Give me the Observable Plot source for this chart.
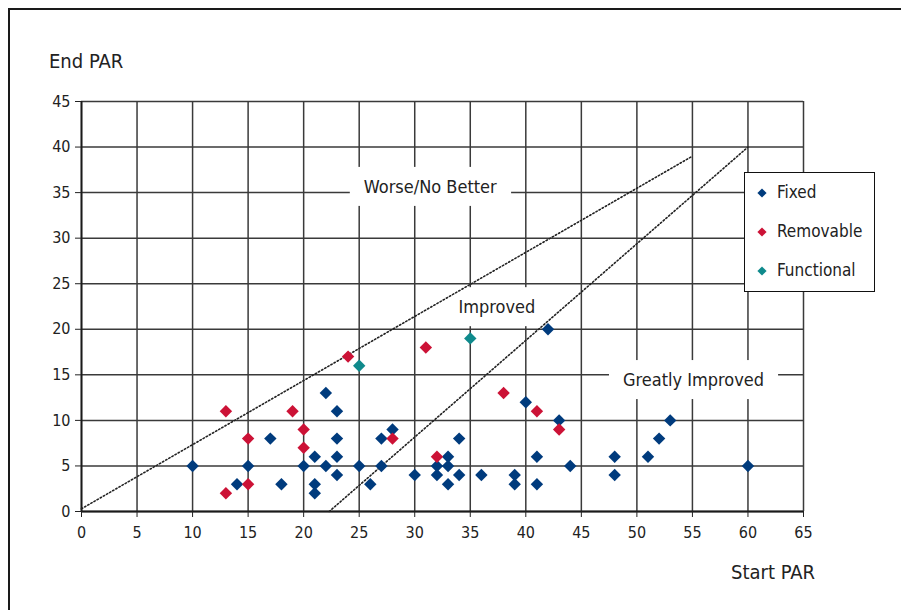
<!DOCTYPE html>
<html>
<head>
<meta charset="utf-8">
<script src="https://cdn.jsdelivr.net/npm/d3@7"></script>
<script src="https://cdn.jsdelivr.net/npm/@observablehq/plot@0.6"></script>
<style>
  body { margin: 0; background: #fff; }
  #wrap { position: relative; width: 901px; height: 610px; overflow: hidden;
          font-family: "DejaVu Sans Condensed", "DejaVu Sans", sans-serif; color: #222; background: #fff; }
  #frame { position: absolute; left: 8px; top: 8px; width: 1000px; height: 1000px;
           border-left: 2px solid #1a1a1a; border-top: 2px solid #1a1a1a; }
  #chart { position: absolute; left: 0; top: 0; }
  .axlabel { position: absolute; font-size: 20px; white-space: nowrap; line-height: 1; }
  #legend { position: absolute; left: 744px; top: 172px; width: 131px; height: 120px; box-sizing: border-box;
            border: 1.5px solid #111; background: #fff; }
  .row { position: absolute; left: 0; font-size: 17px; line-height: 1; white-space: nowrap; }
  .row svg { position: absolute; left: 11px; top: 3px; }
  .row span { position: absolute; left: 32px; top: 0; }
</style>
</head>
<body>
<div id="wrap">
  <div id="frame"></div>
  <div id="chart"></div>
  <div class="axlabel" style="left:49px; top:51px;">End PAR</div>
  <div class="axlabel" style="left:731px; top:562px;">Start PAR</div>
  <div id="legend"></div>
</div>
<script>
// ---- data ----
const seriesNames = ["Fixed", "Removable", "Functional"];
const seriesColors = ["#003b7d", "#cc1236", "#0f8a8c"];

const fixedStart = [10, 14, 15, 17, 18, 20, 21, 21, 21, 22, 22, 23, 23, 23, 23, 25, 26, 27, 27, 28, 30, 32, 32, 33, 33, 33, 34, 34, 36, 39, 39, 40, 41, 41, 42, 43, 44, 48, 48, 51, 52, 53, 60];
const fixedEnd   = [ 5,  3,  5,  8,  3,  5,  6,  3,  2, 13,  5, 11,  8,  6,  4,  5,  3,  8,  5,  9,  4,  5,  4,  6,  5,  3,  8,  4,  4,  4,  3, 12,  6,  3, 20, 10,  5,  6,  4,  6,  8, 10,  5];

const removableStart = [13, 13, 15, 15, 19, 20, 20, 24, 28, 31, 32, 38, 41, 43];
const removableEnd   = [11,  2,  8,  3, 11,  9,  7, 17,  8, 18,  6, 13, 11,  9];

const functionalStart = [25, 35];
const functionalEnd   = [16, 19];

const xTicks = [0, 5, 10, 15, 20, 25, 30, 35, 40, 45, 50, 55, 60, 65];
const yTicks = [0, 5, 10, 15, 20, 25, 30, 35, 40, 45];

// boundary lines (start -> end of each dotted line)
const boundaryId = ["upper", "upper", "lower", "lower"];
const boundaryX  = [0, 55, 22.3, 60];
const boundaryY  = [0.3, 39, 0, 40];

// zone annotations
const zoneText = ["Worse/No Better", "Improved", "Greatly Improved"];
const zoneX = [31.4, 37.4, 55.1];
const zoneY = [35.6, 22.4, 14.4];

// ---- build tables ----
const points = [
  ...fixedStart.map((x, i) => ({series: "Fixed", x, y: fixedEnd[i]})),
  ...removableStart.map((x, i) => ({series: "Removable", x, y: removableEnd[i]})),
  ...functionalStart.map((x, i) => ({series: "Functional", x, y: functionalEnd[i]}))
];
const boundaries = boundaryId.map((id, i) => ({id, x: boundaryX[i], y: boundaryY[i]}));
const zones = zoneText.map((t, i) => ({t, x: zoneX[i], y: zoneY[i]}));

const gridColor = "#3a3a3a";

const plot = Plot.plot({
  width: 901,
  height: 610,
  marginLeft: 81,
  marginRight: 98,
  marginTop: 101,
  marginBottom: 99,
  style: {fontFamily: '"DejaVu Sans Condensed", "DejaVu Sans", sans-serif', fontSize: "16px", color: "#222", background: "transparent"},
  x: {domain: [0, 65]},
  y: {domain: [0, 45]},
  color: {domain: seriesNames, range: seriesColors},
  marks: [
    Plot.gridX(xTicks, {stroke: gridColor, strokeOpacity: 1, strokeWidth: 1.5}),
    Plot.gridY(yTicks, {stroke: gridColor, strokeOpacity: 1, strokeWidth: 1.5}),
    Plot.ruleY([0], {stroke: "#1a1a1a", strokeWidth: 2.2}),
    Plot.ruleX([0], {stroke: "#1a1a1a", strokeWidth: 1.8}),
    Plot.text(zones, {x: "x", y: "y", text: "t", fontSize: 18, fill: "#222"}),
    Plot.line(boundaries, {x: "x", y: "y", z: "id", stroke: "#222", strokeWidth: 1.6, strokeDasharray: "1.4,2.2"}),
    Plot.axisX({ticks: xTicks, tickSize: 6, tickPadding: 9, label: null, stroke: "#222"}),
    Plot.axisY({ticks: yTicks, tickSize: 6, tickPadding: 5, label: null, stroke: "#222"}),
    Plot.dot(points, {x: "x", y: "y", fill: "series", symbol: "diamond2", r: 5.6, stroke: "none"})
  ]
});

document.getElementById("chart").appendChild(plot);

// white background boxes behind zone labels
plot.querySelectorAll("text").forEach(t => {
  if (!zoneText.includes(t.textContent.trim())) return;
  const bb = t.getBBox();
  const r = document.createElementNS("http://www.w3.org/2000/svg", "rect");
  r.setAttribute("x", bb.x - 14);
  r.setAttribute("y", bb.y - 9);
  r.setAttribute("width", bb.width + 28);
  r.setAttribute("height", bb.height + 18);
  r.setAttribute("fill", "#fff");
  const tr = t.getAttribute("transform");
  if (tr) r.setAttribute("transform", tr);
  t.parentNode.insertBefore(r, t);
});

// legend
const legend = document.getElementById("legend");
seriesNames.forEach((name, i) => {
  const row = document.createElement("div");
  row.className = "row";
  row.style.top = (11 + i * 39) + "px";
  row.style.width = "100%";
  row.innerHTML = `<svg width="12" height="12" viewBox="-6 -6 12 12"><path d="M0,-4.6L4.6,0L0,4.6L-4.6,0Z" fill="${seriesColors[i]}"/></svg><span>${name}</span>`;
  legend.appendChild(row);
});
</script>
</body>
</html>
